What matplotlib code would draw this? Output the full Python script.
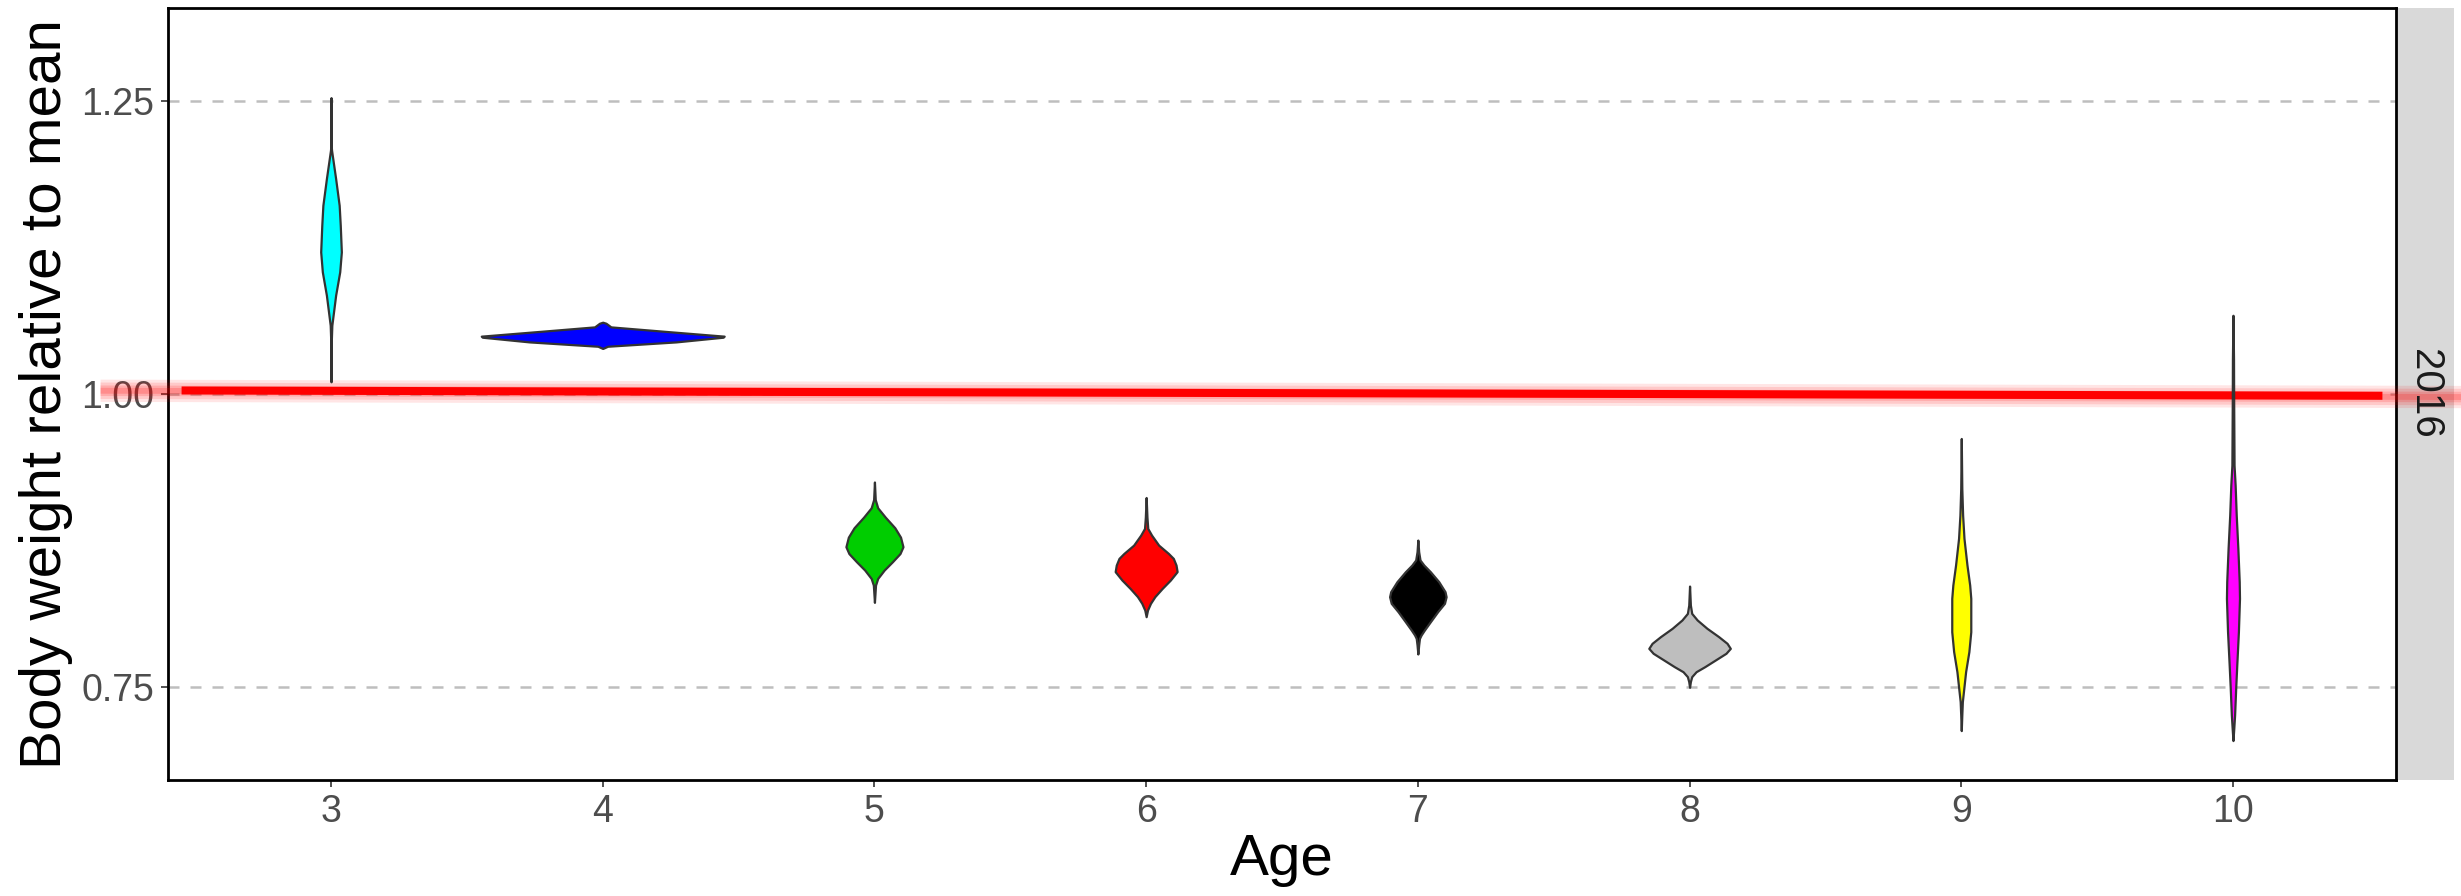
import matplotlib
matplotlib.use("Agg")
import matplotlib.pyplot as plt
from matplotlib.patches import Rectangle

ARQUIVO_SAIDA = "out.png"

# categorias e cores
idades = [3, 4, 5, 6, 7, 8, 9, 10]
cores = ["#00FFFF", "#0000FF", "#00CD00", "#FF0000", "#000000", "#BEBEBE", "#FFFF00", "#FF00FF"]

# perfis dos violinos: y (peso relativo) e meia largura (unidades de x)
y_3 = [1.2526, 1.2119, 1.2077, 1.1836, 1.1608, 1.1438, 1.1211, 1.1041, 1.0842, 1.0586, 1.0416, 1.0104]
w_3 = [0, 0.0005, 0.002, 0.017, 0.030, 0.034, 0.038, 0.032, 0.017, 0.003, 0.0005, 0]

y_4 = [1.0612, 1.0603, 1.0572, 1.0532, 1.0493, 1.0484, 1.0444, 1.0407, 1.0388]
w_4 = [0, 0.012, 0.030, 0.24, 0.447, 0.443, 0.27, 0.018, 0]

y_5 = [0.925, 0.910, 0.903, 0.895, 0.886, 0.878, 0.8698, 0.864, 0.857, 0.850, 0.8428, 0.8371, 0.8224]
w_5 = [0, 0.003, 0.012, 0.040, 0.075, 0.096, 0.105, 0.094, 0.066, 0.036, 0.012, 0.004, 0]

y_6 = [0.9118, 0.895, 0.8854, 0.8797, 0.8712, 0.8641, 0.8599, 0.8542, 0.8486, 0.8414, 0.8343, 0.8273, 0.8216, 0.8158, 0.8102]
w_6 = [0, 0.003, 0.006, 0.020, 0.046, 0.082, 0.100, 0.110, 0.114, 0.089, 0.059, 0.032, 0.016, 0.005, 0]

y_7 = [0.8755, 0.8656, 0.8585, 0.8542, 0.8485, 0.8400, 0.8315, 0.8272, 0.8216, 0.8145, 0.8059, 0.7988, 0.7946, 0.7917, 0.7861, 0.7784]
w_7 = [0, 0.003, 0.008, 0.022, 0.046, 0.077, 0.100, 0.104, 0.098, 0.073, 0.046, 0.024, 0.012, 0.006, 0.003, 0]

y_8 = [0.8363, 0.8201, 0.8130, 0.8074, 0.8003, 0.7932, 0.7875, 0.7832, 0.7790, 0.7733, 0.7676, 0.7633, 0.7591, 0.7548, 0.7500]
w_8 = [0, 0.003, 0.008, 0.028, 0.064, 0.107, 0.138, 0.150, 0.134, 0.095, 0.056, 0.024, 0.008, 0.003, 0]

y_9 = [0.9621, 0.9195, 0.8968, 0.8769, 0.8542, 0.8372, 0.8258, 0.7974, 0.7804, 0.7633, 0.7463, 0.7378, 0.7264, 0.7131]
w_9 = [0, 0.002, 0.005, 0.010, 0.021, 0.031, 0.035, 0.035, 0.028, 0.016, 0.008, 0.004, 0.002, 0]

y_10 = [1.0671, 1.0300, 0.9962, 0.9394, 0.9223, 0.8968, 0.8684, 0.8400, 0.8258, 0.7974, 0.7690, 0.7492, 0.7264, 0.7151, 0.7046]
w_10 = [0, 0.002, 0.0025, 0.004, 0.008, 0.012, 0.018, 0.023, 0.024, 0.020, 0.014, 0.010, 0.006, 0.003, 0]

# linha de tendencia (vermelha) e faixa de confianca
linha_x = [2.45, 10.55]
linha_y = [1.0030, 0.9985]
faixa_x = [2.15, 10.90]
faixa_y = [1.0032, 0.9978]

rotulo_painel = "2016"


def gerar_grafico():
    perfis_y = [y_3, y_4, y_5, y_6, y_7, y_8, y_9, y_10]
    perfis_w = [w_3, w_4, w_5, w_6, w_7, w_8, w_9, w_10]

    plt.rcParams["font.family"] = ["Liberation Sans", "DejaVu Sans"]

    fig = plt.figure(figsize=(12.305, 4.48), dpi=200)
    ax = fig.add_axes([168 / 2461, 116 / 896, 2228 / 2461, 772 / 896])

    ax.set_xlim(2.4, 10.6)
    ax.set_ylim(0.671, 1.329)

    # faixa rosada (fora do painel tambem, como no original)
    for meia, alfa in [(0.0095, 0.10), (0.0070, 0.12), (0.0045, 0.15), (0.0025, 0.18)]:
        ax.fill_between(faixa_x, [v - meia for v in faixa_y], [v + meia for v in faixa_y],
                        color="#FF0000", alpha=alfa, linewidth=0, clip_on=False, zorder=3)

    ax.plot(linha_x, linha_y, color="#FF0000", linewidth=2.9, solid_capstyle="butt", zorder=4)

    for idade, cor, ys, ws in zip(idades, cores, perfis_y, perfis_w):
        ax.fill_betweenx(ys, [idade - w for w in ws], [idade + w for w in ws],
                         facecolor=cor, edgecolor="#333333", linewidth=0.8, zorder=5)

    ax.set_yticks([0.75, 1.00, 1.25])
    ax.set_yticklabels(["0.75", "1.00", "1.25"])
    ax.set_xticks(idades)
    ax.set_xticklabels([str(i) for i in idades])

    ax.yaxis.grid(True, color="#BEBEBE", linestyle=(0, (4.4, 4.4)), linewidth=0.9)
    ax.set_axisbelow(True)

    for lado in ax.spines.values():
        lado.set_color("black")
        lado.set_linewidth(1.0)

    ax.tick_params(axis="both", length=2.5, width=0.6, color="#333333",
                   labelcolor="#4D4D4D", labelsize=13.5, pad=2.5)

    ax.set_xlabel("Age", fontsize=21, labelpad=1)
    ax.set_ylabel("Body weight relative to mean", fontsize=21, labelpad=3)

    # faixa cinza do facet a direita
    largura_strip = 58 / 2228
    ax.add_patch(Rectangle((1.0, 0.0), largura_strip, 1.0, transform=ax.transAxes,
                           facecolor="#D9D9D9", edgecolor="none", clip_on=False, zorder=0.5))
    ax.text(1.0 + largura_strip / 2, 0.5, rotulo_painel, transform=ax.transAxes,
            rotation=-90, ha="center", va="center", fontsize=14.5, color="#1A1A1A")

    fig.savefig(ARQUIVO_SAIDA, dpi=200)
    plt.close(fig)


def main():
    gerar_grafico()


if __name__ == "__main__":
    main()
